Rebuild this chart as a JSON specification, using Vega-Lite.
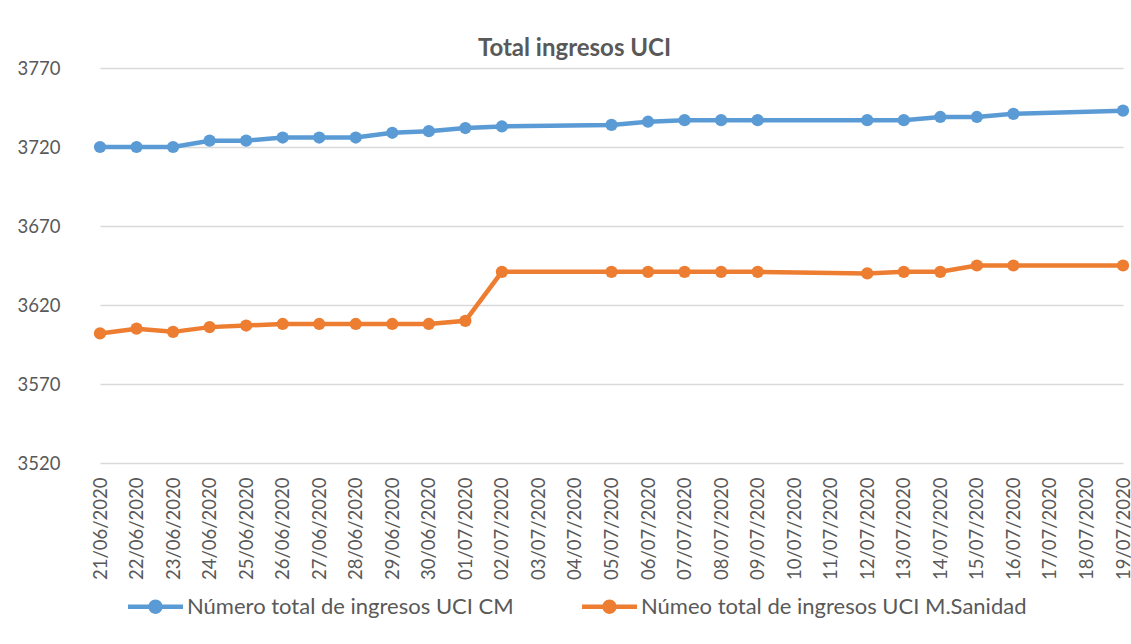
{
  "$schema": "https://vega.github.io/schema/vega-lite/v6.json",
  "autosize": {"type": "none"},
  "padding": {"left": 82, "top": 68, "right": 0, "bottom": 181},
  "width": 1049,
  "height": 395,
  "background": "white",
  "config": {
    "font": "Lato",
    "view": {"stroke": null},
    "axis": {"labelFont": "Lato", "labelColor": "#595959", "labelFontSize": 18.5},
    "legend": {"labelFont": "Lato", "labelColor": "#595959", "labelFontSize": 22}
  },
  "title": {"text": "Total ingresos UCI", "font": "Lato", "fontSize": 24, "fontWeight": "bold", "color": "#595959", "anchor": "middle", "offset": -2, "dx": -32},
  "data": {"values": [
    {"fecha": "21/06/2020", "serie": "Número total de ingresos UCI CM", "valor": 3720},
    {"fecha": "22/06/2020", "serie": "Número total de ingresos UCI CM", "valor": 3720},
    {"fecha": "23/06/2020", "serie": "Número total de ingresos UCI CM", "valor": 3720},
    {"fecha": "24/06/2020", "serie": "Número total de ingresos UCI CM", "valor": 3724},
    {"fecha": "25/06/2020", "serie": "Número total de ingresos UCI CM", "valor": 3724},
    {"fecha": "26/06/2020", "serie": "Número total de ingresos UCI CM", "valor": 3726},
    {"fecha": "27/06/2020", "serie": "Número total de ingresos UCI CM", "valor": 3726},
    {"fecha": "28/06/2020", "serie": "Número total de ingresos UCI CM", "valor": 3726},
    {"fecha": "29/06/2020", "serie": "Número total de ingresos UCI CM", "valor": 3729},
    {"fecha": "30/06/2020", "serie": "Número total de ingresos UCI CM", "valor": 3730},
    {"fecha": "01/07/2020", "serie": "Número total de ingresos UCI CM", "valor": 3732},
    {"fecha": "02/07/2020", "serie": "Número total de ingresos UCI CM", "valor": 3733},
    {"fecha": "05/07/2020", "serie": "Número total de ingresos UCI CM", "valor": 3734},
    {"fecha": "06/07/2020", "serie": "Número total de ingresos UCI CM", "valor": 3736},
    {"fecha": "07/07/2020", "serie": "Número total de ingresos UCI CM", "valor": 3737},
    {"fecha": "08/07/2020", "serie": "Número total de ingresos UCI CM", "valor": 3737},
    {"fecha": "09/07/2020", "serie": "Número total de ingresos UCI CM", "valor": 3737},
    {"fecha": "12/07/2020", "serie": "Número total de ingresos UCI CM", "valor": 3737},
    {"fecha": "13/07/2020", "serie": "Número total de ingresos UCI CM", "valor": 3737},
    {"fecha": "14/07/2020", "serie": "Número total de ingresos UCI CM", "valor": 3739},
    {"fecha": "15/07/2020", "serie": "Número total de ingresos UCI CM", "valor": 3739},
    {"fecha": "16/07/2020", "serie": "Número total de ingresos UCI CM", "valor": 3741},
    {"fecha": "19/07/2020", "serie": "Número total de ingresos UCI CM", "valor": 3743},
    {"fecha": "21/06/2020", "serie": "Númeo total de ingresos UCI M.Sanidad", "valor": 3602},
    {"fecha": "22/06/2020", "serie": "Númeo total de ingresos UCI M.Sanidad", "valor": 3605},
    {"fecha": "23/06/2020", "serie": "Númeo total de ingresos UCI M.Sanidad", "valor": 3603},
    {"fecha": "24/06/2020", "serie": "Númeo total de ingresos UCI M.Sanidad", "valor": 3606},
    {"fecha": "25/06/2020", "serie": "Númeo total de ingresos UCI M.Sanidad", "valor": 3607},
    {"fecha": "26/06/2020", "serie": "Númeo total de ingresos UCI M.Sanidad", "valor": 3608},
    {"fecha": "27/06/2020", "serie": "Númeo total de ingresos UCI M.Sanidad", "valor": 3608},
    {"fecha": "28/06/2020", "serie": "Númeo total de ingresos UCI M.Sanidad", "valor": 3608},
    {"fecha": "29/06/2020", "serie": "Númeo total de ingresos UCI M.Sanidad", "valor": 3608},
    {"fecha": "30/06/2020", "serie": "Númeo total de ingresos UCI M.Sanidad", "valor": 3608},
    {"fecha": "01/07/2020", "serie": "Númeo total de ingresos UCI M.Sanidad", "valor": 3610},
    {"fecha": "02/07/2020", "serie": "Númeo total de ingresos UCI M.Sanidad", "valor": 3641},
    {"fecha": "05/07/2020", "serie": "Númeo total de ingresos UCI M.Sanidad", "valor": 3641},
    {"fecha": "06/07/2020", "serie": "Númeo total de ingresos UCI M.Sanidad", "valor": 3641},
    {"fecha": "07/07/2020", "serie": "Númeo total de ingresos UCI M.Sanidad", "valor": 3641},
    {"fecha": "08/07/2020", "serie": "Númeo total de ingresos UCI M.Sanidad", "valor": 3641},
    {"fecha": "09/07/2020", "serie": "Númeo total de ingresos UCI M.Sanidad", "valor": 3641},
    {"fecha": "12/07/2020", "serie": "Númeo total de ingresos UCI M.Sanidad", "valor": 3640},
    {"fecha": "13/07/2020", "serie": "Númeo total de ingresos UCI M.Sanidad", "valor": 3641},
    {"fecha": "14/07/2020", "serie": "Númeo total de ingresos UCI M.Sanidad", "valor": 3641},
    {"fecha": "15/07/2020", "serie": "Númeo total de ingresos UCI M.Sanidad", "valor": 3645},
    {"fecha": "16/07/2020", "serie": "Númeo total de ingresos UCI M.Sanidad", "valor": 3645},
    {"fecha": "19/07/2020", "serie": "Númeo total de ingresos UCI M.Sanidad", "valor": 3645}
  ]},
  "encoding": {
    "x": {
      "field": "fecha", "type": "ordinal", "sort": null,
      "scale": {"type": "point", "padding": 0, "range": [18, 1041], "domain": ["21/06/2020","22/06/2020","23/06/2020","24/06/2020","25/06/2020","26/06/2020","27/06/2020","28/06/2020","29/06/2020","30/06/2020","01/07/2020","02/07/2020","03/07/2020","04/07/2020","05/07/2020","06/07/2020","07/07/2020","08/07/2020","09/07/2020","10/07/2020","11/07/2020","12/07/2020","13/07/2020","14/07/2020","15/07/2020","16/07/2020","17/07/2020","18/07/2020","19/07/2020"]},
      "axis": {"title": null, "labelAngle": -90, "domain": false, "ticks": false, "grid": false, "labelPadding": 14, "labelOverlap": false}
    },
    "y": {
      "field": "valor", "type": "quantitative",
      "scale": {"domain": [3520, 3770], "zero": false, "nice": false},
      "axis": {"title": null, "format": "d", "values": [3520, 3570, 3620, 3670, 3720, 3770], "domain": false, "ticks": false, "labelPadding": 22, "grid": true, "gridColor": "#d9d9d9", "gridWidth": 1.3}
    },
    "color": {
      "field": "serie", "type": "nominal",
      "scale": {"domain": ["Número total de ingresos UCI CM", "Númeo total de ingresos UCI M.Sanidad"], "range": ["#5B9BD5", "#ED7D31"]},
      "legend": {
        "title": null, "orient": "none", "legendX": 46, "legendY": 511, "direction": "horizontal",
        "symbolType": "M-1,-0.08H1V0.08H-1Z M0.26,0A0.26,0.26,0,1,1,-0.26,0A0.26,0.26,0,1,1,0.26,0Z",
        "symbolSize": 3025, "symbolStrokeWidth": 0, "labelOffset": 4, "columnPadding": 68, "labelLimit": 0, "padding": 0,
        "encode": {"symbols": {"update": {"fill": {"scale": "color", "field": "value"}, "opacity": {"value": 1}}}}
      }
    }
  },
  "layer": [
    {"mark": {"type": "line", "strokeWidth": 4.5}, "encoding": {"order": {"value": null}}},
    {"mark": {"type": "point", "filled": true, "size": 150, "opacity": 1}}
  ]
}
